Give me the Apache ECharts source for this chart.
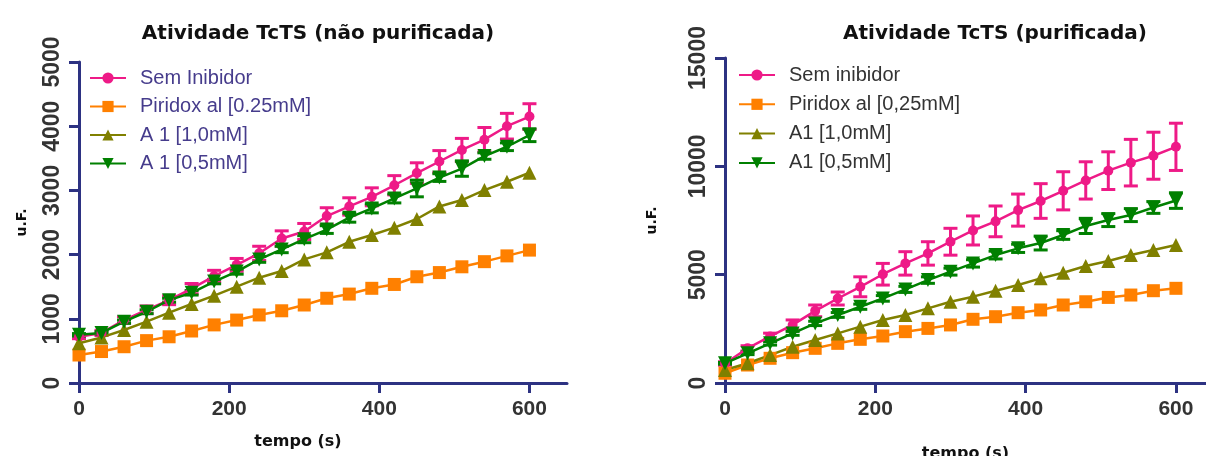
<!doctype html>
<html>
<head>
<meta charset="utf-8" />
<script src="https://cdn.jsdelivr.net/npm/echarts@6/dist/echarts.min.js"></script>
<style>
  html, body { margin: 0; background: #fff; }
  #chart { width: 1206px; height: 456px; }
</style>
</head>
<body>
<div id="chart"></div>
<script>
// tempo (s)
const time = [0, 30, 60, 90, 120, 150, 180, 210, 240, 270, 300, 330, 360, 390, 420, 450, 480, 510, 540, 570, 600];

// left panel: nao purificada
const leftSem = [720, 780, 980, 1140, 1290, 1470, 1665, 1840, 2020, 2250, 2360, 2600, 2750, 2900, 3080, 3270, 3450, 3630, 3790, 4000, 4150];
const leftSemErr = [30, 40, 50, 60, 70, 80, 90, 100, 110, 120, 125, 130, 135, 140, 150, 160, 170, 180, 190, 200, 200];
const leftPir = [436, 490, 565, 660, 720, 810, 905, 980, 1060, 1125, 1215, 1320, 1385, 1475, 1535, 1655, 1720, 1810, 1890, 1980, 2070];
const leftA1_10 = [620, 710, 825, 955, 1095, 1230, 1360, 1500, 1640, 1745, 1925, 2035, 2200, 2305, 2420, 2555, 2750, 2850, 3005, 3135, 3275];
const leftA1_05 = [750, 780, 955, 1110, 1290, 1405, 1580, 1735, 1925, 2080, 2240, 2390, 2575, 2720, 2875, 3030, 3200, 3340, 3535, 3680, 3860];
const leftA1_05Err = [20, 20, 25, 30, 30, 35, 35, 40, 45, 50, 55, 60, 70, 70, 70, 130, 60, 120, 50, 60, 100];

// right panel: purificada
const rightSem = [900, 1600, 2150, 2680, 3330, 3900, 4440, 5020, 5520, 5980, 6520, 7040, 7460, 7980, 8400, 8870, 9350, 9800, 10170, 10490, 10900];
const rightSemErr = [80, 120, 150, 230, 270, 300, 460, 500, 540, 540, 620, 670, 710, 740, 800, 880, 860, 870, 1075, 1085, 1090];
const rightPir = [450, 830, 1140, 1400, 1600, 1830, 2015, 2170, 2370, 2520, 2680, 2940, 3060, 3245, 3370, 3600, 3750, 3950, 4060, 4260, 4370];
const rightA1_10 = [600, 910, 1290, 1675, 1985, 2290, 2600, 2905, 3140, 3445, 3750, 3985, 4260, 4520, 4830, 5090, 5400, 5630, 5905, 6140, 6370];
const rightA1_05 = [910, 1370, 1830, 2290, 2750, 3140, 3520, 3905, 4320, 4750, 5140, 5520, 5905, 6215, 6460, 6830, 7250, 7520, 7750, 8100, 8420];
const rightA1_05Err = [40, 60, 80, 90, 100, 110, 120, 130, 140, 150, 160, 170, 180, 190, 320, 200, 350, 300, 300, 270, 360];

const xTicks = [0, 200, 400, 600];

const PINK = '#ee1a87', ORANGE = '#ff8000', OLIVE = '#808000', GREEN = '#008000';
const AXIS = '#2d3282', LABEL = '#333333';

const pts = (ys) => time.map((t, i) => [t, ys[i]]);
const errs = (ys, es) => time.map((t, i) => [t, ys[i] - es[i], ys[i] + es[i]]);

function errorBars(name, color, data, idx) {
  return {
    name, type: 'custom', xAxisIndex: idx, yAxisIndex: idx, data,
    renderItem: (params, api) => {
      const x = api.value(0);
      const lo = api.coord([x, api.value(1)]);
      const hi = api.coord([x, api.value(2)]);
      const hw = 7;
      const st = { stroke: color, lineWidth: 3 };
      return {
        type: 'group',
        children: [
          { type: 'line', shape: { x1: lo[0], y1: lo[1], x2: hi[0], y2: hi[1] }, style: st },
          { type: 'line', shape: { x1: lo[0] - hw, y1: lo[1], x2: lo[0] + hw, y2: lo[1] }, style: st },
          { type: 'line', shape: { x1: hi[0] - hw, y1: hi[1], x2: hi[0] + hw, y2: hi[1] }, style: st }
        ]
      };
    },
    silent: true
  };
}

function line(name, color, data, idx, symbol, size, rotate) {
  return {
    name, type: 'line', xAxisIndex: idx, yAxisIndex: idx, data,
    symbol, symbolSize: size, symbolRotate: rotate || 0,
    lineStyle: { color, width: 2.5 },
    itemStyle: { color, borderWidth: 0 },
    emphasis: { disabled: true }
  };
}

const axisCommon = {
  axisLine: { show: true, lineStyle: { color: AXIS, width: 3 } },
  axisTick: { show: true, length: 10, lineStyle: { color: AXIS, width: 3 } },
  splitLine: { show: false }
};

function xAxis(idx, max, gap, pad) {
  return Object.assign({}, axisCommon, {
    type: 'value', gridIndex: idx, min: 0, max,
    axisLabel: { customValues: xTicks, fontFamily: 'Liberation Sans', fontWeight: 'bold', fontSize: 21, color: LABEL, margin: 16 },
    axisTick: Object.assign({}, axisCommon.axisTick, { customValues: xTicks }),
    name: 'tempo (s)', nameLocation: 'middle', nameGap: gap,
    nameTextStyle: { fontFamily: 'DejaVu Sans', fontWeight: 'bold', fontSize: 16, color: '#111', padding: pad }
  });
}

function yAxis(idx, max, interval, gap) {
  return Object.assign({}, axisCommon, {
    type: 'value', gridIndex: idx, min: 0, max, interval,
    axisLabel: { rotate: 90, formatter: (v) => String(v), fontFamily: 'Liberation Sans', fontWeight: 'bold', fontSize: 23, color: LABEL, margin: 15 },
    name: 'u.F.', nameLocation: 'middle', nameGap: gap,
    nameTextStyle: { fontFamily: 'DejaVu Sans', fontWeight: 'bold', fontSize: 14, color: '#111' }
  });
}

const leftNames = ['Sem Inibidor', 'Piridox al [0.25mM]', 'A 1 [1,0mM]', 'A 1 [0,5mM]'];
const rightNames = ['Sem inibidor', 'Piridox al [0,25mM]', 'A1 [1,0mM]', 'A1 [0,5mM]'];

function legend(names, left, top, gap, color) {
  return {
    data: names, orient: 'vertical', left, top, itemWidth: 36, itemHeight: 14, itemGap: gap,
    selectedMode: false,
    textStyle: { fontFamily: 'Liberation Sans', fontSize: 20, lineHeight: 20, color, padding: [0, 0, 0, 9] }
  };
}

const chart = echarts.init(document.getElementById('chart'), null, { renderer: 'canvas' });
chart.setOption({
  animation: false,
  backgroundColor: '#ffffff',
  title: [
    { text: 'Atividade TcTS (não purificada)', left: 313, top: 19, textAlign: 'center',
      textStyle: { fontFamily: 'DejaVu Sans', fontWeight: 'bold', fontSize: 20, color: '#111' } },
    { text: 'Atividade TcTS (purificada)', left: 990, top: 19, textAlign: 'center',
      textStyle: { fontFamily: 'DejaVu Sans', fontWeight: 'bold', fontSize: 20, color: '#111' } }
  ],
  legend: [
    legend(leftNames, 84, 63, 8.5, '#463c8c'),
    legend(rightNames, 733, 60, 9.3, '#333333')
  ],
  grid: [
    { left: 79, top: 62, width: 488, bottom: 73, outerBoundsMode: 'none' },
    { left: 725, top: 58, right: 0, bottom: 73, outerBoundsMode: 'none' }
  ],
  xAxis: [xAxis(0, 650, 51, [0, 50, 0, 0]), xAxis(1, 640, 63, [0, 0, 0, 0])],
  yAxis: [yAxis(0, 5000, 1000, 50), yAxis(1, 15000, 5000, 66)],
  series: [
    errorBars('errL1', PINK, errs(leftSem, leftSemErr), 0),
    line(leftNames[0], PINK, pts(leftSem), 0, 'circle', 10),
    line(leftNames[1], ORANGE, pts(leftPir), 0, 'rect', 13),
    line(leftNames[2], OLIVE, pts(leftA1_10), 0, 'triangle', 14),
    errorBars('errL4', GREEN, errs(leftA1_05, leftA1_05Err), 0),
    line(leftNames[3], GREEN, pts(leftA1_05), 0, 'triangle', 14, 180),

    errorBars('errR1', PINK, errs(rightSem, rightSemErr), 1),
    line(rightNames[0], PINK, pts(rightSem), 1, 'circle', 10),
    line(rightNames[1], ORANGE, pts(rightPir), 1, 'rect', 13),
    line(rightNames[2], OLIVE, pts(rightA1_10), 1, 'triangle', 14),
    errorBars('errR4', GREEN, errs(rightA1_05, rightA1_05Err), 1),
    line(rightNames[3], GREEN, pts(rightA1_05), 1, 'triangle', 14, 180)
  ]
});
</script>
</body>
</html>
